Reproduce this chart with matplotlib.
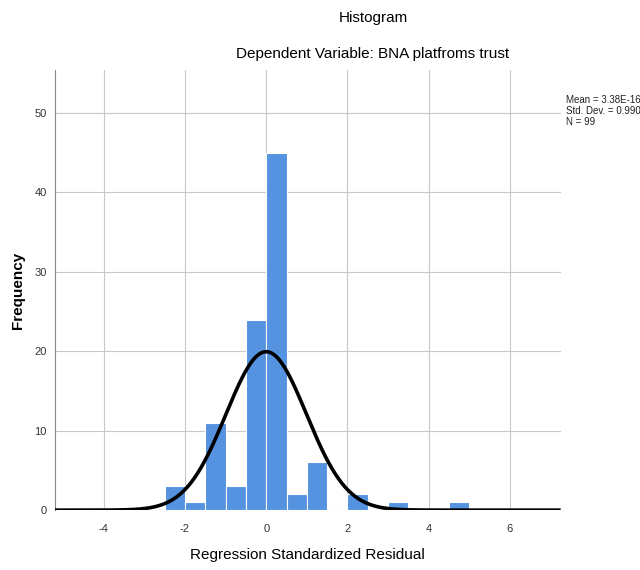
import numpy as np
import matplotlib
matplotlib.use("Agg")
import matplotlib.pyplot as plt

# histogram bins (bin width 0.5) and counts
bin_edges = [-2.5, -2.0, -1.5, -1.0, -0.5, 0.0, 0.5, 1.0, 1.5, 2.0, 2.5, 3.0, 3.5, 4.0, 4.5, 5.0]
counts = [3, 1, 11, 3, 24, 45, 2, 6, 0, 2, 0, 1, 0, 0, 1]

mean = 3.38e-16
std_dev = 0.990
n = 99

x_ticks = [-4, -2, 0, 2, 4, 6]
y_ticks = [0, 10, 20, 30, 40, 50]

plt.rcParams['font.family'] = ['Liberation Sans', 'DejaVu Sans']
plt.rcParams['axes.unicode_minus'] = False

fig = plt.figure(figsize=(6.4, 5.7), dpi=100)
ax = fig.add_axes([0.086, 0.105, 0.79, 0.772])

lefts = np.array(bin_edges[:-1])
widths = np.diff(bin_edges)
ax.bar(lefts, counts, width=widths, align='edge', color='#5593e0',
       edgecolor='white', linewidth=0.8, zorder=2)

# normal curve scaled to counts
xs = np.linspace(-5.2, 7.25, 600)
bw = widths[0]
ys = n * bw / (std_dev * np.sqrt(2 * np.pi)) * np.exp(-0.5 * ((xs - mean) / std_dev) ** 2)
ax.plot(xs, ys, color='black', linewidth=2.6, zorder=3, solid_capstyle='butt')

ax.set_xlim(-5.2, 7.25)
ax.set_ylim(0, 55.4)
ax.set_xticks(x_ticks)
ax.set_yticks(y_ticks)
ax.grid(True, color='#c8c8c8', linewidth=0.8, zorder=0)
ax.set_axisbelow(True)
for s in ['top', 'right', 'bottom']:
    ax.spines[s].set_visible(False)
ax.spines['left'].set_color('#888888')
ax.tick_params(length=0, labelsize=8, colors='#333333', pad=6)
ax.tick_params(axis='x', pad=10)

fig.text(18 / 640, 1 - 290 / 570, 'Frequency', rotation=90, ha='center', va='center',
         fontsize=11, fontweight='bold')
fig.text(307 / 640, 1 - 555 / 570, 'Regression Standardized Residual',
         ha='center', va='center', fontsize=11)

fig.text(373 / 640, 1 - 18 / 570, 'Histogram', ha='center', va='center', fontsize=11)
fig.text(373 / 640, 1 - 54 / 570, 'Dependent Variable: BNA platfroms trust',
         ha='center', va='center', fontsize=11)

fig.text(566 / 640, 1 - 95 / 570,
         'Mean = 3.38E-16\nStd. Dev. = 0.990\nN = 99',
         ha='left', va='top', fontsize=7, linespacing=1.1, color='#222222')

fig.savefig('out.png', dpi=100)
